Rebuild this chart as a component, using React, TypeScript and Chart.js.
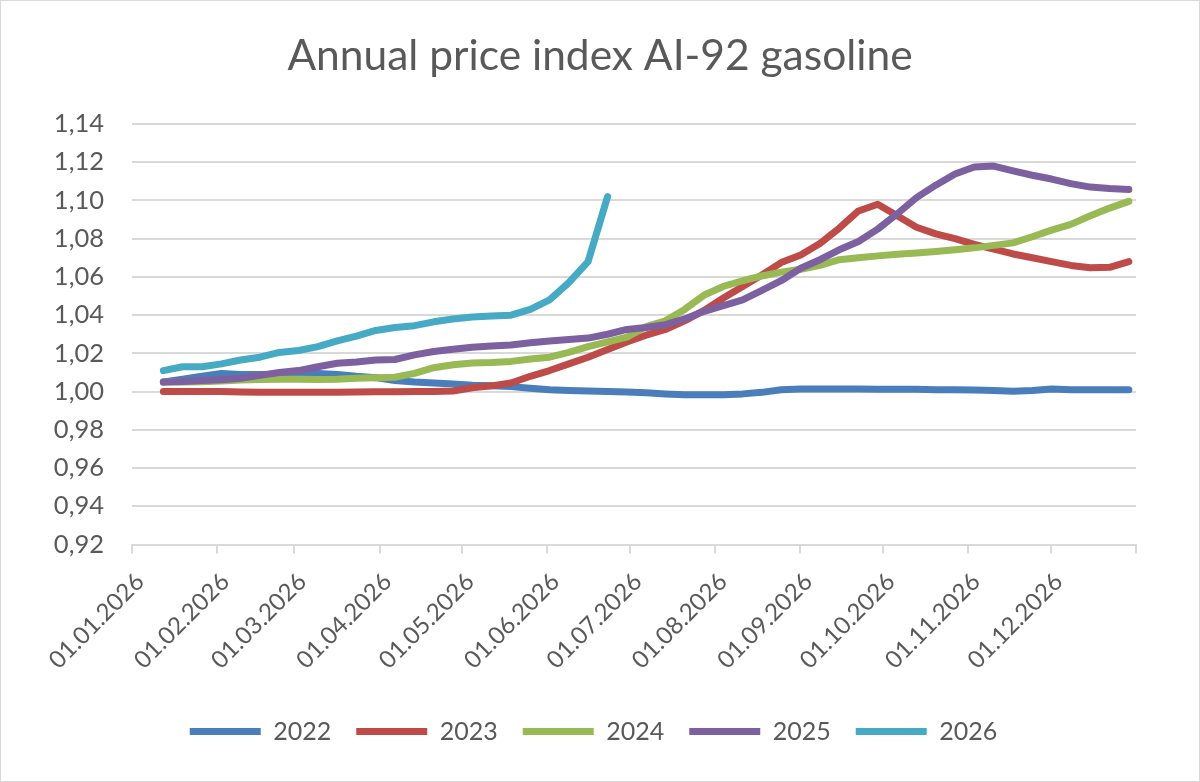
import React, { useEffect, useRef } from 'react';
import { Chart, registerables } from 'chart.js';

Chart.register(...registerables);

const chartTitle = 'Annual price index AI-92 gasoline';
const seriesNames = ['2022', '2023', '2024', '2025', '2026'];
const seriesColors = ['#4A7EBB', '#BE4B48', '#98B954', '#7D60A0', '#46AAC5'];

// day of year (0 = 01.01.2026) of each weekly observation
const weekDays = [
  11.4, 18.4, 25.5, 32.5, 39.5, 46.5, 53.5, 60.5, 67.6, 74.6,
  81.6, 88.6, 95.6, 102.7, 109.7, 116.7, 123.7, 130.7, 137.8, 144.8,
  151.8, 158.8, 165.8, 172.9, 179.9, 186.9, 193.9, 200.9, 208.0, 215.0,
  222.0, 229.0, 236.0, 243.1, 250.1, 257.1, 264.1, 271.1, 278.2, 285.2,
  292.2, 299.2, 306.2, 313.3, 320.3, 327.3, 334.3, 341.3, 348.4, 355.4,
  362.4,
];

const monthStartDays = [0, 31, 59, 90, 120, 151, 181, 212, 243, 273, 304, 334, 365];
const monthLabels = [
  '01.01.2026', '01.02.2026', '01.03.2026', '01.04.2026', '01.05.2026', '01.06.2026',
  '01.07.2026', '01.08.2026', '01.09.2026', '01.10.2026', '01.11.2026', '01.12.2026', '',
];
const yTickValues = [0.92, 0.94, 0.96, 0.98, 1.0, 1.02, 1.04, 1.06, 1.08, 1.1, 1.12, 1.14];

const values2022 = [
  1.005, 1.0065, 1.008, 1.0095, 1.009, 1.009, 1.009, 1.0095, 1.0095, 1.009,
  1.008, 1.0073, 1.0058, 1.005, 1.0045, 1.004, 1.0033, 1.003, 1.0026, 1.0018,
  1.001, 1.0006, 1.0003, 1.0, 0.9998, 0.9994, 0.9988, 0.9984, 0.9983, 0.9984,
  0.9988, 0.9996, 1.001, 1.0013, 1.0013, 1.0013, 1.0013, 1.0012, 1.0012, 1.0012,
  1.001, 1.001, 1.0008, 1.0006, 1.0002, 1.0006, 1.0014, 1.001, 1.001, 1.001,
  1.001,
];
const values2023 = [
  1.0, 1.0, 1.0, 1.0, 0.9998, 0.9997, 0.9996, 0.9996, 0.9996, 0.9997,
  0.9998, 0.9999, 0.9999, 1.0, 1.0, 1.0003, 1.002, 1.003, 1.0045, 1.008,
  1.011, 1.0145, 1.018, 1.022, 1.026, 1.0295, 1.0325, 1.037, 1.0425, 1.049,
  1.055, 1.061, 1.0675, 1.0715, 1.0775, 1.0855, 1.0945, 1.098, 1.092, 1.086,
  1.0825, 1.08, 1.077, 1.0745, 1.072, 1.07, 1.068, 1.066, 1.0648, 1.065,
  1.068,
];
const values2024 = [
  1.005, 1.005, 1.0052, 1.0055, 1.006, 1.0063, 1.0065, 1.0065, 1.0063, 1.0065,
  1.007, 1.0072, 1.0075, 1.0095, 1.0125, 1.014, 1.015, 1.0152, 1.0158, 1.017,
  1.018, 1.0205, 1.0235, 1.026, 1.0285, 1.034, 1.037, 1.043, 1.0505, 1.055,
  1.058, 1.0605, 1.0625, 1.064, 1.066, 1.069, 1.07, 1.071, 1.0718, 1.0725,
  1.0733, 1.0742, 1.0752, 1.0765, 1.0778, 1.081, 1.0845, 1.0875, 1.092, 1.096,
  1.0995,
];
const values2025 = [
  1.005, 1.0053, 1.0058, 1.0062, 1.007, 1.0085, 1.01, 1.011, 1.013, 1.0148,
  1.0155, 1.0165, 1.0168, 1.0192, 1.021, 1.0222, 1.0232, 1.0238, 1.0244, 1.0255,
  1.0265, 1.0272, 1.028, 1.03, 1.0325, 1.0335, 1.035, 1.038, 1.042, 1.045,
  1.048, 1.053, 1.058, 1.0645, 1.069, 1.0742, 1.0785, 1.085, 1.093, 1.1015,
  1.108, 1.1138, 1.1175, 1.118, 1.1155, 1.1132, 1.1112, 1.1088, 1.107, 1.1062,
  1.1057,
];
const values2026 = [
  1.011, 1.013, 1.013, 1.0145, 1.0165, 1.018, 1.0205, 1.0215, 1.0235, 1.0265,
  1.029, 1.032, 1.0335, 1.0345, 1.0365, 1.038, 1.039, 1.0395, 1.04, 1.043,
  1.048, 1.057, 1.068, 1.102,
];

const allSeries = [values2022, values2023, values2024, values2025, values2026];

const FONT = 'Lato';
const TEXT = '#595959';
const GRID = '#d9d9d9';

// Title centred over the whole chart area (Excel style), independent of layout padding
const centeredTitle = {
  id: 'centeredTitle',
  afterDraw(chart: any) {
    const ctx = chart.ctx;
    ctx.save();
    ctx.font = `normal 42.5px ${FONT}`;
    ctx.fillStyle = TEXT;
    ctx.textAlign = 'center';
    ctx.textBaseline = 'middle';
    ctx.fillText(chartTitle, chart.width / 2, 55.5);
    ctx.restore();
  },
};

export default function App() {
  const canvasRef = useRef<HTMLCanvasElement | null>(null);

  useEffect(() => {
    const canvas = canvasRef.current;
    if (!canvas) return;
    const datasets = allSeries.map((vals, s) => ({
      label: seriesNames[s],
      data: vals.map((v, i) => ({ x: weekDays[i], y: v })),
      borderColor: seriesColors[s],
      backgroundColor: seriesColors[s],
      borderWidth: 7,
      pointRadius: 0,
      pointHoverRadius: 0,
      tension: 0,
      borderCapStyle: 'round' as const,
      borderJoinStyle: 'round' as const,
      fill: false,
      order: allSeries.length - s,
    }));

    const chart = new Chart(canvas, {
      type: 'line',
      data: { datasets },
      plugins: [centeredTitle],
      options: {
        responsive: false,
        animation: false,
        events: [],
        layout: { padding: { left: 50, right: 63, top: 123, bottom: 27 } },
        plugins: {
          title: { display: false },
          legend: {
            display: true,
            position: 'bottom',
            labels: {
              boxWidth: 71,
              boxHeight: 7,
              useBorderRadius: true,
              borderRadius: 3.5,
              color: TEXT,
              font: { family: FONT, size: 25 },
              padding: 25,
              sort: (a: any, b: any) => a.datasetIndex - b.datasetIndex,
              generateLabels: (c: any) =>
                c.data.datasets.map((d: any, i: number) => ({
                  text: d.label,
                  fillStyle: d.borderColor,
                  strokeStyle: d.borderColor,
                  lineWidth: 0,
                  hidden: false,
                  datasetIndex: i,
                  fontColor: TEXT,
                })),
            },
          },
          tooltip: { enabled: false },
        },
        scales: {
          x: {
            type: 'linear',
            min: 0,
            max: 365,
            afterBuildTicks: (scale: any) => {
              scale.ticks = monthStartDays.map((v) => ({ value: v }));
            },
            afterFit: (scale: any) => {
              scale.height = 149.5;
            },
            ticks: {
              autoSkip: false,
              maxRotation: 45,
              minRotation: 45,
              padding: 14,
              labelOffset: 8,
              color: TEXT,
              font: { family: FONT, size: 24 },
              callback: (_v: any, index: number) => monthLabels[index],
            },
            grid: {
              display: true,
              drawOnChartArea: false,
              drawTicks: true,
              tickLength: 9,
              color: GRID,
              lineWidth: 2,
            },
            border: { display: true, color: GRID, width: 2 },
          },
          y: {
            type: 'linear',
            min: 0.92,
            max: 1.14,
            afterBuildTicks: (scale: any) => {
              scale.ticks = yTickValues.map((v) => ({ value: v }));
            },
            afterFit: (scale: any) => {
              scale.width = 81;
            },
            ticks: {
              padding: 28,
              color: TEXT,
              font: { family: FONT, size: 25.5 },
              callback: (v: any) => Number(v).toFixed(2).replace('.', ','),
            },
            grid: {
              display: true,
              drawTicks: false,
              color: GRID,
              lineWidth: 2,
            },
            border: { display: false },
          },
        },
      },
    });
    return () => chart.destroy();
  }, []);

  return (
    <div
      style={{
        position: 'fixed',
        left: 0,
        top: 0,
        width: 1200,
        height: 782,
        boxSizing: 'border-box',
        border: '1px solid #d9d9d9',
        background: '#ffffff',
      }}
    >
      <canvas ref={canvasRef} width={1198} height={780} style={{ display: 'block' }} />
    </div>
  );
}
